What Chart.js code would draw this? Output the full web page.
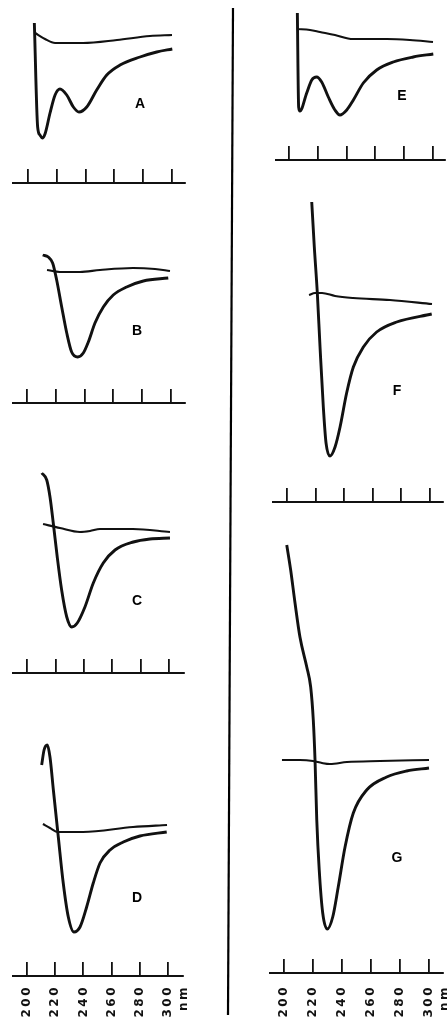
<!DOCTYPE html>
<html><head><meta charset="utf-8">
<script src="https://cdn.jsdelivr.net/npm/chart.js@4.4.1/dist/chart.umd.min.js"></script>
<style>
html,body{margin:0;padding:0;background:#fff;width:447px;height:1021px;overflow:hidden;position:relative}
canvas{position:absolute}
.lbl{position:absolute;font:bold 14px 'Liberation Sans',Arial,sans-serif;color:#000;transform:translate(-50%,-50%);line-height:1}
svg{position:absolute;left:0;top:0}
</style></head><body>
<svg width="447" height="1021"><line x1="233" y1="8" x2="228" y2="1015" stroke="#000" stroke-width="2.2"/></svg>
<script>
// Wavelength axis (nm)
const tickValues = [200, 220, 240, 260, 280, 300];
const tickLabels = ['200', '220', '240', '260', '280', '300'];
const unitLabel = 'nm';
const panelNames = ['A', 'B', 'C', 'D', 'E', 'F', 'G'];

// Panel A
const aUpperNm  = [204.9, 211.8, 218.8, 238.2, 261.8, 284.7, 300.0];
const aUpperVal = [2, -4, -8, -8, -5, -1, 0];
const aLowerNm  = [204.4, 206.7, 208.3, 209.9, 211.8, 215.3, 218.8, 222.2, 226.9, 231.5, 235.4, 240.8, 247.7, 254.7, 263.9, 277.8, 289.4, 300.2];
const aLowerVal = [12, -92, -100, -103, -99, -78, -60, -54, -60, -72, -77, -72, -55, -40, -30, -22, -17, -14];
// Panel B
const bUpperNm  = [213.9, 222.9, 236.8, 250.7, 273.6, 288.9, 299.3];
const bUpperVal = [1, -1, -1, 1, 3, 2, 0];
const bLowerNm  = [210.9, 214.8, 217.8, 220.6, 224.1, 227.6, 231.0, 235.2, 239.1, 242.6, 247.2, 253.0, 259.9, 269.2, 280.8, 298.1];
const bLowerVal = [16, 14, 8, -9, -36, -62, -81, -86, -82, -71, -52, -36, -24, -16, -10, -7];
// Panel C
const cUpperNm  = [211.3, 223.2, 237.3, 244.4, 251.4, 274.6, 300.7];
const cUpperVal = [8, 4, 0, 1, 3, 3, 0];
const cLowerNm  = [210.4, 213.9, 216.2, 218.5, 221.3, 224.4, 228.0, 231.5, 235.4, 240.8, 246.7, 253.7, 262.0, 274.9, 286.6, 300.7];
const cLowerVal = [59, 52, 35, 9, -25, -58, -85, -95, -91, -75, -51, -31, -18, -10, -7, -6];
// Panel D
const dUpperNm  = [211.3, 216.3, 222.0, 239.7, 275.2, 299.3];
const dUpperVal = [1, -3, -7, -7, -2, 0];
const dLowerNm  = [210.4, 212.1, 214.4, 216.3, 218.7, 222.2, 225.7, 229.3, 233.3, 237.6, 242.3, 247.0, 251.8, 258.9, 268.3, 280.1, 299.1];
const dLowerVal = [60, 75, 80, 68, 35, -12, -58, -92, -107, -102, -82, -58, -38, -25, -17, -11, -7];
// Panel E
const eUpperNm  = [205.6, 214.6, 221.5, 231.9, 244.4, 268.1, 284.0, 300.0];
const eUpperVal = [13, 12, 10, 7, 3, 3, 2, 0];
const eLowerNm  = [205.8, 206.7, 207.6, 212.3, 215.8, 219.2, 222.7, 227.3, 231.9, 235.4, 240.1, 244.7, 251.6, 260.9, 272.4, 286.3, 300.2];
const eLowerVal = [29, -65, -69, -51, -38, -35, -40, -55, -68, -73, -68, -58, -41, -28, -20, -15, -12];
// Panel F
const fUpperNm  = [215.4, 219.6, 224.5, 233.6, 246.2, 272.0, 301.4];
const fUpperVal = [9, 11, 11, 8, 6, 4, 0];
const fLowerNm  = [217.3, 219.1, 221.2, 223.1, 225.4, 227.3, 230.1, 233.6, 237.1, 241.7, 246.4, 253.4, 262.7, 276.7, 301.2];
const fLowerVal = [102, 57, 11, -43, -103, -139, -152, -143, -123, -89, -63, -43, -28, -18, -10];
// Panel G
const gUpperNm  = [198.6, 211.0, 220.0, 226.2, 231.7, 243.4, 266.2, 300.0];
const gUpperVal = [0, 0, -1, -3, -4, -2, -1, 0];
const gLowerNm  = [201.9, 204.6, 207.6, 211.0, 215.7, 218.4, 220.2, 221.4, 222.6, 224.3, 226.7, 229.9, 233.6, 237.4, 242.1, 247.8, 257.0, 270.8, 284.6, 300.0];
const gLowerVal = [215, 190, 157, 123, 93, 73, 40, 0, -60, -110, -153, -169, -157, -127, -87, -53, -30, -17, -11, -8];

const series = {
  A: [aUpperNm, aUpperVal, aLowerNm, aLowerVal],
  B: [bUpperNm, bUpperVal, bLowerNm, bLowerVal],
  C: [cUpperNm, cUpperVal, cLowerNm, cLowerVal],
  D: [dUpperNm, dUpperVal, dLowerNm, dLowerVal],
  E: [eUpperNm, eUpperVal, eLowerNm, eLowerVal],
  F: [fUpperNm, fUpperVal, fLowerNm, fLowerVal],
  G: [gUpperNm, gUpperVal, gLowerNm, gLowerVal]
};

// Layout of each panel on the page (plot box, axis calibration, label placement)
const layoutCfg = {
  A: {L: 13, R: 185, T: 0,   B: 200,  p200: 28,  p300: 172, zero: 35,  ruler: 183, lx: 140, ly: 103, labels: false},
  B: {L: 13, R: 185, T: 200, B: 420,  p200: 27,  p300: 171, zero: 271, ruler: 403, lx: 137, ly: 330, labels: false},
  C: {L: 13, R: 184, T: 430, B: 690,  p200: 27,  p300: 169, zero: 532, ruler: 673, lx: 137, ly: 600, labels: false},
  D: {L: 13, R: 183, T: 700, B: 1021, p200: 27,  p300: 168, zero: 825, ruler: 976, lx: 137, ly: 897, labels: true, pad: 23},
  E: {L: 276, R: 445, T: 0,   B: 175,  p200: 289, p300: 433, zero: 42,  ruler: 160, lx: 402, ly: 95,  labels: false},
  F: {L: 273, R: 443, T: 180, B: 515,  p200: 287, p300: 430, zero: 304, ruler: 502, lx: 397, ly: 390, labels: false},
  G: {L: 270, R: 443, T: 520, B: 1021, p200: 284, p300: 429, zero: 760, ruler: 973, lx: 397, ly: 857, labels: true, pad: 26}
};

const spacingPlugin = {
  id: 'letterSpacing',
  beforeDraw(chart) { try { chart.ctx.letterSpacing = '2.5px'; } catch (e) {} },
  afterDraw(chart) { try { chart.ctx.letterSpacing = '0px'; } catch (e) {} }
};

const PADL = 20, PADR = 50;
panelNames.forEach(name => {
  const c = layoutCfg[name];
  const [uNm, uVal, lNm, lVal] = series[name];
  const pxPerNm = (c.p300 - c.p200) / 100;
  const xMin = 200 - (c.p200 - c.L) / pxPerNm;
  const xMax = 200 + (c.R - c.p200) / pxPerNm;
  const yMax = c.zero - c.T;
  const yMin = c.zero - c.B;
  const rulerVal = c.zero - c.ruler;

  const cv = document.createElement('canvas');
  const w = c.R - c.L + PADL + PADR, h = c.B - c.T;
  cv.width = w; cv.height = h;
  cv.style.left = (c.L - PADL) + 'px';
  cv.style.top = c.T + 'px';
  cv.style.width = w + 'px'; cv.style.height = h + 'px';
  document.body.appendChild(cv);

  const toPts = (xs, ys) => xs.map((x, i) => ({x: x, y: ys[i]}));

  new Chart(cv.getContext('2d'), {
    type: 'line',
    data: {
      datasets: [
        {data: toPts(uNm, uVal), borderColor: '#111', borderWidth: 2.1, pointRadius: 0, cubicInterpolationMode: 'monotone', fill: false},
        {data: toPts(lNm, lVal), borderColor: '#111', borderWidth: 2.9, pointRadius: 0, cubicInterpolationMode: 'monotone', fill: false}
      ]
    },
    options: {
      responsive: false, maintainAspectRatio: false, animation: false,
      layout: {autoPadding: false, padding: {left: PADL, right: PADR, top: 0, bottom: 0}},
      plugins: {legend: {display: false}, tooltip: {enabled: false}, title: {display: false}},
      scales: {
        x: {
          type: 'linear', min: xMin, max: xMax,
          position: {y: rulerVal},
          grid: {display: true, drawOnChartArea: false, drawTicks: true, tickLength: -15, color: '#111', lineWidth: 1.8},
          border: {display: true, color: '#111', width: 2},
          afterBuildTicks: s => { s.ticks = tickValues.map(v => ({value: v})); },
          afterFit: s => { s.paddingLeft = 0; s.paddingRight = 0; },
          ticks: {
            display: c.labels, autoSkip: false, minRotation: 90, maxRotation: 90,
            padding: (c.pad || 0) + 1, color: '#111',
            font: {family: 'DejaVu Sans', weight: 'bold', size: 12, lineHeight: 1.35},
            callback: (v, i) => i === tickValues.length - 1 ? [tickLabels[i], unitLabel] : tickLabels[i]
          }
        },
        y: {type: 'linear', min: yMin, max: yMax, display: false}
      }
    },
    plugins: [spacingPlugin]
  });

  const lab = document.createElement('div');
  lab.className = 'lbl';
  lab.textContent = name;
  lab.style.left = c.lx + 'px';
  lab.style.top = c.ly + 'px';
  document.body.appendChild(lab);
});
</script>
</body></html>
